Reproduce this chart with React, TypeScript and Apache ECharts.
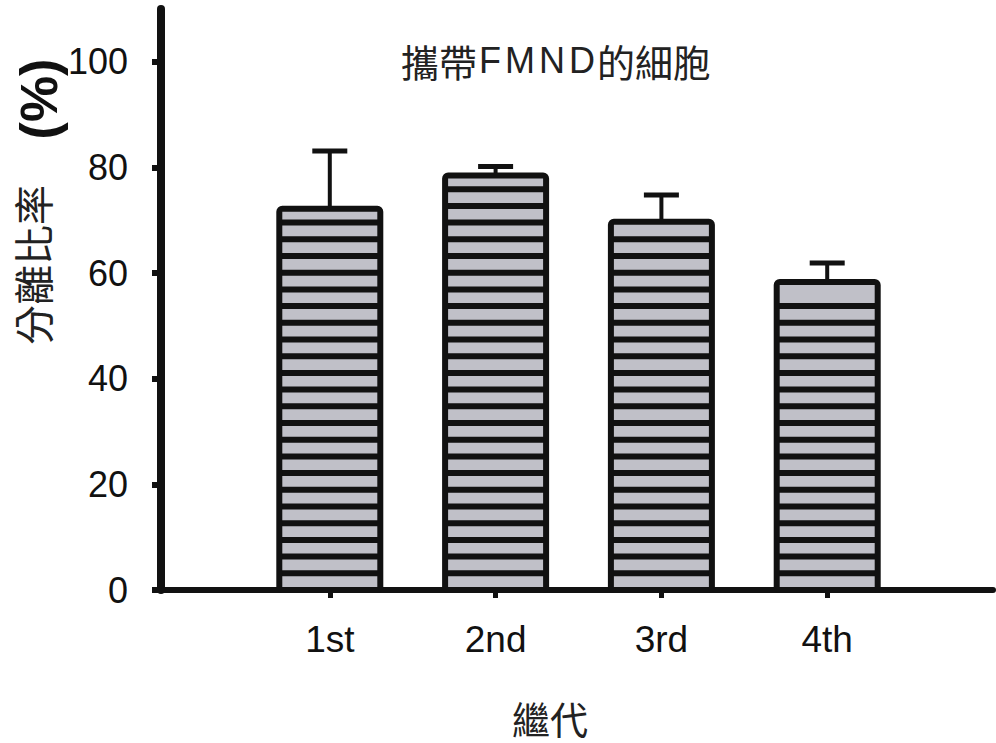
import React, { useEffect, useRef } from "react";
import * as echarts from "echarts";

const categories = ["1st", "2nd", "3rd", "4th"];
const values = [72.2, 78.5, 69.7, 58.3];
const errors = [10.9, 1.7, 5.1, 3.6];
const yTicks = [0, 20, 40, 60, 80, 100];
const titlePre = "攜帶";
const titleMid = "FMND";
const titlePost = "的細胞";
const xName = "繼代";
const yNameMain = "分離比率";
const yNameUnit = "(%)";

export default function App() {
  const ref = useRef<HTMLDivElement>(null);
  useEffect(() => {
    if (!ref.current) return;
    const chart = echarts.init(ref.current, null, { renderer: "svg" });
    const axisData = ["", ...categories, ""];
    const data = categories.map((c, i) => [i + 1, values[i], errors[i]]);
    const ink = "#111";
    const fill = "#c0c0c8";
    const period = 16.7;
    const barW = 101;

    const renderItem = (params: any, api: any) => {
      const cat = api.value(0);
      const val = api.value(1);
      const err = api.value(2);
      const top = api.coord([cat, val]);
      const base = api.coord([cat, 0]);
      const eTop = api.coord([cat, val + err]);
      const cx = top[0];
      const x = cx - barW / 2;
      const h = base[1] - top[1];
      const children: any[] = [
        {
          type: "rect",
          shape: { x, y: top[1], width: barW, height: h },
          style: { fill },
        },
      ];
      for (let k = 1; ; k++) {
        const yc = base[1] - k * period;
        if (yc < top[1] + 9) break;
        children.push({
          type: "rect",
          shape: { x, y: yc - 3, width: barW, height: 6 },
          style: { fill: ink },
        });
      }
      children.push({
        type: "line",
        shape: { x1: cx, y1: top[1], x2: cx, y2: eTop[1] },
        style: { stroke: ink, lineWidth: 4 },
      });
      children.push({
        type: "line",
        shape: { x1: cx - 17.5, y1: eTop[1], x2: cx + 17.5, y2: eTop[1] },
        style: { stroke: ink, lineWidth: 5 },
      });
      children.push({
        type: "rect",
        shape: { x, y: top[1], width: barW, height: h, r: 3 },
        style: { fill: "none", stroke: ink, lineWidth: 6 },
      });
      return { type: "group", children };
    };

    const midRich = titleMid
      .split("")
      .map((ch) => `{l|${ch}}`)
      .join("");

    chart.setOption({
      animation: false,
      backgroundColor: "#fff",
      grid: { left: 164, right: 0, top: 9, bottom: 153, containLabel: false },
      xAxis: {
        type: "category",
        data: axisData,
        boundaryGap: false,
        axisLine: { show: true, lineStyle: { color: ink, width: 6 } },
        axisTick: {
          show: true,
          interval: (i: number, v: string) => v !== "",
          length: 8,
          lineStyle: { color: ink, width: 5 },
        },
        axisLabel: {
          interval: 0,
          fontSize: 37,
          margin: 31,
          color: ink,
          fontFamily: "Liberation Sans, Arial, sans-serif",
        },
        splitLine: { show: false },
      },
      yAxis: {
        type: "value",
        min: 0,
        max: 110,
        offset: 3,
        axisLine: { show: true, lineStyle: { color: ink, width: 8 } },
        axisTick: {
          show: true,
          customValues: yTicks,
          length: 9,
          lineStyle: { color: ink, width: 6 },
        },
        axisLabel: {
          customValues: yTicks,
          fontSize: 36,
          margin: 33,
          color: ink,
          fontFamily: "Liberation Sans, Arial, sans-serif",
        },
        splitLine: { show: false },
      },
      graphic: [
        {
          type: "text",
          x: 556,
          y: 60,
          style: {
            text: `{c|${titlePre}}${midRich}{c|${titlePost}}`,
            rich: {
              c: { fontSize: 38, fontFamily: "Noto Sans CJK TC", fill: "#222" },
              l: {
                fontSize: 36,
                fontFamily: "Liberation Sans, Arial, sans-serif",
                fill: "#222",
                padding: [0, 2, 0, 2],
              },
            },
            align: "center",
            verticalAlign: "middle",
          },
        },
        {
          type: "text",
          x: 550,
          y: 717,
          style: {
            text: xName,
            fontSize: 38,
            fontFamily: "Noto Sans CJK TC",
            fill: "#222",
            align: "center",
            verticalAlign: "middle",
          },
        },
        {
          type: "text",
          x: 32,
          y: 265,
          rotation: Math.PI / 2,
          style: {
            text: yNameMain,
            fontSize: 40,
            fontFamily: "Noto Sans CJK TC",
            fill: "#222",
            align: "center",
            verticalAlign: "middle",
          },
        },
        {
          type: "text",
          x: 39,
          y: 99,
          rotation: Math.PI / 2,
          style: {
            text: yNameUnit,
            fontSize: 52,
            fontWeight: "bold",
            fontFamily: "Liberation Sans, Arial, sans-serif",
            fill: "#111",
            align: "center",
            verticalAlign: "middle",
          },
        },
      ],
      series: [
        {
          type: "custom",
          renderItem,
          data,
          encode: { x: 0, y: 1 },
          clip: false,
        },
      ],
    });
    return () => chart.dispose();
  }, []);
  return (
    <div
      ref={ref}
      style={{ position: "absolute", left: 0, top: 0, width: 996, height: 743 }}
    />
  );
}
